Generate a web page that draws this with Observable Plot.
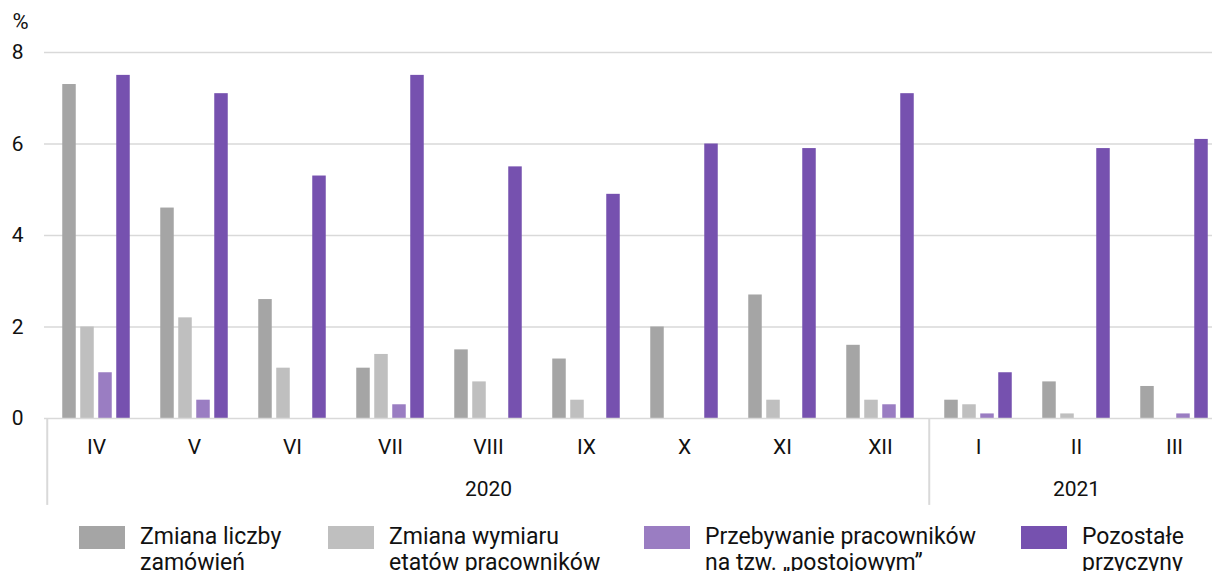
<!DOCTYPE html>
<html>
<head>
<meta charset="utf-8">
<script src="https://cdn.jsdelivr.net/npm/d3@7"></script>
<script src="https://cdn.jsdelivr.net/npm/@observablehq/plot@0.6"></script>
<style>
html, body { margin: 0; padding: 0; overflow: hidden; background: #fff; width: 1212px; height: 571px; }
#chart { position: relative; width: 1212px; height: 510px; overflow: hidden; }
#chart svg { display: block; max-width: none; }
#legend { position: relative; height: 61px; font-family: Roboto, sans-serif; font-size: 23px; line-height: 26px; color: #111; }
.item { position: absolute; top: 16px; display: flex; align-items: flex-start; }
.sw { width: 46px; height: 23px; margin-right: 15px; flex: none; }
.lbl { margin-top: -2px; white-space: nowrap; }
</style>
</head>
<body>
<div id="chart"></div>
<div id="legend"></div>
<script>
// ---- data ----
const months = ["IV","V","VI","VII","VIII","IX","X","XI","XII","I","II","III"];
const years  = ["2020","2020","2020","2020","2020","2020","2020","2020","2020","2021","2021","2021"];
const seriesNames = [
  "Zmiana liczby\nzamówień",
  "Zmiana wymiaru\netatów pracowników",
  "Przebywanie pracowników\nna tzw. „postojowym”",
  "Pozostałe\nprzyczyny"
];
const zmianaLiczby   = [7.3, 4.6, 2.6, 1.1, 1.5, 1.3, 2.0, 2.7, 1.6, 0.4, 0.8, 0.7];
const zmianaWymiaru  = [2.0, 2.2, 1.1, 1.4, 0.8, 0.4, 0.0, 0.4, 0.4, 0.3, 0.1, 0.0];
const postojowe      = [1.0, 0.4, 0.0, 0.3, 0.0, 0.0, 0.0, 0.0, 0.3, 0.1, 0.0, 0.1];
const pozostale      = [7.5, 7.1, 5.3, 7.5, 5.5, 4.9, 6.0, 5.9, 7.1, 1.0, 5.9, 6.1];
const yTicks = [0, 2, 4, 6, 8];
const colors = ["#a5a5a5", "#bfbfbf", "#9a7dc2", "#7651af"];

// ---- layout ----
const width = 1226, height = 510, marginLeft = 44, marginRight = 0, marginTop = 52, marginBottom = 92;
const band = (width - marginLeft - marginRight) / months.length;
const barW = 14, step = 18, groupOffset = (band - (3 * step + barW)) / 2;

const allSeries = [zmianaLiczby, zmianaWymiaru, postojowe, pozostale];
const barMarks = allSeries.map((vals, k) => {
  const data = months.map((m, i) => ({month: m, value: vals[i]}));
  const insetLeft = groupOffset + k * step;
  return Plot.barY(data, {
    x: "month", y: "value", fill: colors[k],
    insetLeft, insetRight: band - insetLeft - barW
  });
});

// year groups
const yearList = [...new Set(years)];
const yearStarts = yearList.map(y => months[years.indexOf(y)]);
const yearCenters = yearList.map(y => {
  const idx = years.map((v, i) => v === y ? i : -1).filter(i => i >= 0);
  return {month: months[idx[Math.floor(idx.length / 2)]], year: y};
});

const font = "Roboto, sans-serif";
const plot = Plot.plot({
  width, height, marginLeft, marginRight, marginTop, marginBottom,
  style: {fontFamily: font, fontSize: "21px", color: "#111", background: "transparent", maxWidth: "none"},
  x: {type: "band", domain: months, padding: 0},
  y: {domain: [0, 8]},
  marks: [
    Plot.ruleY(yTicks.filter(t => t > 0), {stroke: "#d9d9d9", strokeWidth: 1.6}),
    ...barMarks,
    Plot.ruleY([0], {stroke: "#d9d9d9", strokeWidth: 1.6}),
    Plot.ruleX(yearStarts, {x: d => d, dx: -band / 2, y1: 0, y2: -1.9, stroke: "#d9d9d9", strokeWidth: 2}),
    Plot.axisX({tickSize: 0, tickPadding: 21, fontSize: 21, label: null}),
    Plot.axisY({ticks: yTicks, tickSize: 0, tickPadding: 21, fontSize: 21, label: null, tickFormat: d3.format("d")}),
    Plot.text(yearCenters, {x: "month", text: "year", frameAnchor: "bottom", lineAnchor: "middle", dy: 71, fontSize: 21, fill: "#111"}),
    Plot.text(["%"], {frameAnchor: "top-left", lineAnchor: "middle", text: d => d, dx: -32, dy: -31, textAnchor: "start", fontSize: 22, fill: "#111"})
  ]
});
document.getElementById("chart").appendChild(plot);

// legend
const lefts = [79, 328, 644, 1021];
const legend = document.getElementById("legend");
seriesNames.forEach((name, k) => {
  const item = document.createElement("div");
  item.className = "item";
  item.style.left = lefts[k] + "px";
  const sw = document.createElement("div");
  sw.className = "sw";
  sw.style.background = colors[k];
  const lbl = document.createElement("div");
  lbl.className = "lbl";
  lbl.innerHTML = name.split("\n").join("<br>");
  item.appendChild(sw); item.appendChild(lbl);
  legend.appendChild(item);
});
</script>
</body>
</html>
